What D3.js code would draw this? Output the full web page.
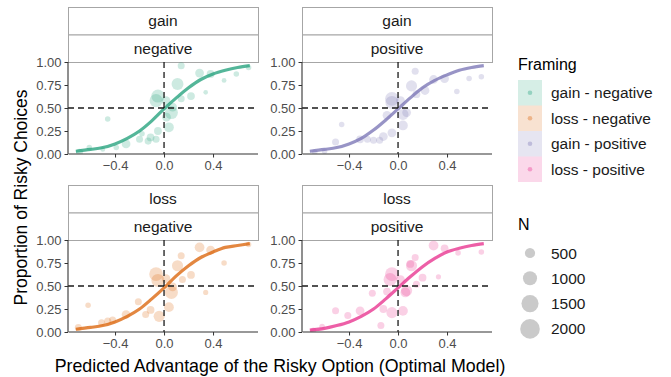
<!DOCTYPE html>
<html>
<head>
<meta charset="utf-8">
<script src="https://cdn.jsdelivr.net/npm/d3@7"></script>
<style>
  body { margin: 0; background: #fff; }
  text { font-family: "Liberation Sans", Arial, sans-serif; }
</style>
</head>
<body>
<div id="chart"></div>
<script>
// panel facets (row label / column label) and legend entries
const rowLabels = ['gain', 'loss'];
const colLabels = ['negative', 'positive'];
const framingLabels = ['gain - negative', 'loss - negative', 'gain - positive', 'loss - positive'];
const framingColors = ['#1B9E77', '#D95F02', '#7570B3', '#E7298A'];
const sizeBreaks = [500, 1000, 1500, 2000];
const xTicks = [-0.4, 0.0, 0.4];
const yTicks = [0, 0.25, 0.5, 0.75, 1];

// observed points: [predicted advantage, proportion risky, N]
const ptsGainNeg = [
  [0.14,0.96,200],[0.29,0.88,350],[0.38,0.87,260],[0.59,0.87,100],[0.69,0.94,100],
  [0.49,0.80,60],[0.34,0.67,50],[0.11,0.76,700],[0.22,0.63,260],[0.14,0.60,200],
  [-0.05,0.63,850],[-0.065,0.58,850],[0.016,0.58,350],[0.07,0.51,350],[0.06,0.45,850],
  [0.02,0.40,350],[0.04,0.29,450],[-0.05,0.25,260],[-0.11,0.18,260],[-0.13,0.14,200],
  [-0.2,0.16,200],[-0.065,0.16,200],[-0.31,0.11,350],[-0.46,0.38,100],[-0.39,0.07,100],
  [-0.5,0.05,60],[-0.61,0.07,100],[-0.69,0.02,200],[-0.18,0.22,100]
];
const ptsGainPos = [
  [0.14,0.90,200],[0.29,0.81,350],[0.38,0.82,350],[0.58,0.82,100],[0.68,0.84,100],
  [0.48,0.68,100],[0.11,0.74,600],[0.22,0.69,350],[0.15,0.65,260],[-0.05,0.60,950],
  [-0.05,0.56,850],[0.02,0.58,350],[0.07,0.45,350],[0.04,0.43,600],[-0.09,0.42,350],
  [0.04,0.31,450],[-0.05,0.23,350],[-0.12,0.19,350],[-0.15,0.15,200],[-0.2,0.15,200],
  [-0.25,0.16,200],[-0.31,0.16,260],[-0.46,0.32,100],[-0.51,0.13,200],[-0.68,0.02,100],
  [-0.6,0.03,100]
];
const ptsLossNeg = [
  [0.29,0.92,450],[0.38,0.89,350],[0.14,0.83,200],[0.69,0.95,100],[0.49,0.75,100],
  [0.11,0.72,600],[0.22,0.62,260],[0.15,0.57,200],[-0.065,0.63,950],[-0.05,0.56,850],
  [0.016,0.58,350],[0.07,0.49,350],[0.06,0.43,850],[0.34,0.43,80],[0.04,0.27,450],
  [-0.04,0.17,600],[-0.11,0.24,260],[-0.15,0.19,200],[-0.21,0.33,200],[-0.31,0.19,350],
  [-0.42,0.13,200],[-0.46,0.12,200],[-0.51,0.10,200],[-0.62,0.29,100],[-0.7,0.05,200]
];
const ptsLossPos = [
  [0.29,0.94,450],[0.38,0.91,260],[0.14,0.81,200],[0.10,0.74,260],[0.49,0.86,100],
  [0.68,0.87,100],[0.11,0.72,600],[0.2,0.59,260],[0.33,0.60,80],[0.15,0.52,200],
  [-0.05,0.63,950],[-0.065,0.57,850],[0.02,0.57,350],[0.07,0.45,600],[0.06,0.43,450],
  [-0.09,0.44,260],[-0.21,0.42,200],[0.04,0.23,450],[-0.05,0.21,600],[-0.12,0.25,260],
  [-0.31,0.23,350],[-0.41,0.18,200],[-0.51,0.23,200],[-0.14,0.07,200],[-0.62,0.06,100],
  [-0.69,0.02,100]
];

// fitted curve
const curveX = [-0.72,-0.6,-0.5,-0.4,-0.3,-0.2,-0.1,0,0.1,0.2,0.3,0.4,0.5,0.6,0.7];
const curveGainNeg = [0.03,0.05,0.07,0.11,0.17,0.25,0.36,0.49,0.61,0.72,0.81,0.87,0.91,0.94,0.96];
const curveGainPos = [0.03,0.05,0.07,0.11,0.17,0.26,0.37,0.49,0.61,0.72,0.80,0.86,0.91,0.94,0.96];
const curveLossNeg = [0.03,0.05,0.07,0.11,0.17,0.25,0.36,0.48,0.61,0.72,0.81,0.87,0.92,0.94,0.96];
const curveLossPos = [0.02,0.04,0.07,0.11,0.17,0.25,0.36,0.48,0.60,0.71,0.80,0.87,0.91,0.94,0.96];

const panels = [
  { row: 0, col: 0, pts: ptsGainNeg, curve: curveGainNeg, color: framingColors[0] },
  { row: 0, col: 1, pts: ptsGainPos, curve: curveGainPos, color: framingColors[2] },
  { row: 1, col: 0, pts: ptsLossNeg, curve: curveLossNeg, color: framingColors[1] },
  { row: 1, col: 1, pts: ptsLossPos, curve: curveLossPos, color: framingColors[3] }
];

const W = 671, H = 377;
const panelW = 190, panelH = 92, stripH = 27.5;
const panelX = [68, 302];
const stripTop = [7, 185];

const svg = d3.select('#chart').append('svg')
  .attr('width', W).attr('height', H);

const x = d3.scaleLinear().domain([-0.784, 0.767]).range([0, panelW]);
const y = d3.scaleLinear().domain([0, 1]).range([panelH, 0]);
const area = d3.scaleLinear().domain([0, 2000]).range([3, 96]);
const rOf = n => Math.sqrt(area(n));

panels.forEach(p => {
  const left = panelX[p.col];
  const top = stripTop[p.row];
  const g = svg.append('g').attr('transform', `translate(${left},${top})`);

  // two strips
  [rowLabels[p.row], colLabels[p.col]].forEach((lab, i) => {
    g.append('rect')
      .attr('x', 0.5).attr('y', i * stripH + 0.5)
      .attr('width', panelW).attr('height', stripH)
      .attr('fill', '#fff').attr('stroke', '#a6a6a6').attr('stroke-width', 1);
    g.append('text')
      .attr('x', panelW / 2).attr('y', i * stripH + stripH / 2 + 5.5)
      .attr('text-anchor', 'middle')
      .style('font-size', '15.5px').attr('fill', '#1a1a1a')
      .text(lab);
  });

  const plot = g.append('g').attr('transform', `translate(0,${2 * stripH})`);

  plot.append('defs').append('clipPath').attr('id', `clip${p.row}${p.col}`)
    .append('rect').attr('x', 0).attr('y', -1).attr('width', panelW).attr('height', panelH + 1);

  const inner = plot.append('g').attr('clip-path', `url(#clip${p.row}${p.col})`);

  inner.selectAll('circle')
    .data(p.pts)
    .enter().append('circle')
    .attr('cx', d => x(d[0]))
    .attr('cy', d => y(d[1]))
    .attr('r', d => rOf(d[2]))
    .attr('fill', p.color)
    .attr('fill-opacity', 0.22);

  const line = d3.line()
    .x((d, i) => x(curveX[i]))
    .y(d => y(d))
    .curve(d3.curveCatmullRom);

  inner.append('path')
    .datum(p.curve)
    .attr('d', line)
    .attr('fill', 'none')
    .attr('stroke', p.color)
    .attr('stroke-opacity', 0.75)
    .attr('stroke-width', 3.2);

  // reference lines
  inner.append('line')
    .attr('x1', 0).attr('x2', panelW)
    .attr('y1', y(0.5)).attr('y2', y(0.5))
    .attr('stroke', '#1a1a1a').attr('stroke-width', 1.3).attr('stroke-dasharray', '6,4');
  inner.append('line')
    .attr('x1', x(0)).attr('x2', x(0))
    .attr('y1', 0).attr('y2', panelH)
    .attr('stroke', '#1a1a1a').attr('stroke-width', 1.3).attr('stroke-dasharray', '6,4');

  // axes
  const xAxis = plot.append('g')
    .attr('transform', `translate(0,${panelH})`)
    .call(d3.axisBottom(x).tickValues(xTicks).tickFormat(d3.format('.1f')).tickSize(3.5).tickPadding(3));
  const yAxis = plot.append('g')
    .call(d3.axisLeft(y).tickValues(yTicks).tickFormat(d3.format('.2f')).tickSize(3.5).tickPadding(3));
  [xAxis, yAxis].forEach(a => {
    a.select('.domain').attr('stroke', '#333').attr('stroke-width', 1.1);
    a.selectAll('.tick line').attr('stroke', '#333').attr('stroke-width', 1);
    a.selectAll('.tick text').attr('fill', '#4d4d4d')
      .style('font-size', '13px').style('font-family', '"Liberation Sans", Arial, sans-serif');
  });
  xAxis.select('.domain').attr('d', `M0.5,0H${panelW}`);
  yAxis.select('.domain').attr('d', `M0,0V${panelH}`);
});

// axis titles
svg.append('text')
  .attr('x', (panelX[0] + panelX[1] + panelW) / 2).attr('y', 372)
  .attr('text-anchor', 'middle')
  .style('font-size', '17.8px').attr('fill', '#000')
  .text('Predicted Advantage of the Risky Option (Optimal Model)');

svg.append('text')
  .attr('transform', `translate(27,${(62 + 333) / 2}) rotate(-90)`)
  .attr('text-anchor', 'middle')
  .style('font-size', '17.5px').attr('fill', '#000')
  .text('Proportion of Risky Choices');

// Framing legend
const leg = svg.append('g').attr('transform', 'translate(518,0)');
leg.append('text').attr('x', 0).attr('y', 70)
  .style('font-size', '16px').attr('fill', '#000').text('Framing');

const keyH = 25.5, keyTop = 80;
framingLabels.forEach((lab, i) => {
  const cy = keyTop + i * keyH;
  leg.append('rect')
    .attr('x', 0).attr('y', cy).attr('width', 24).attr('height', keyH)
    .attr('fill', framingColors[i]).attr('fill-opacity', 0.18);
  leg.append('circle')
    .attr('cx', 12).attr('cy', cy + keyH / 2).attr('r', 2.3)
    .attr('fill', framingColors[i]).attr('fill-opacity', 0.35);
  leg.append('text')
    .attr('x', 33).attr('y', cy + keyH / 2 + 5.5)
    .style('font-size', '15.5px').attr('fill', '#1a1a1a').text(lab);
});

// N legend
leg.append('text').attr('x', 0).attr('y', 230)
  .style('font-size', '16px').attr('fill', '#000').text('N');
sizeBreaks.forEach((n, i) => {
  const cy = 253 + i * 25.3;
  leg.append('circle')
    .attr('cx', 12).attr('cy', cy).attr('r', rOf(n))
    .attr('fill', '#bdbdbd').attr('fill-opacity', 0.8);
  leg.append('text')
    .attr('x', 33).attr('y', cy + 5.5)
    .style('font-size', '15.5px').attr('fill', '#1a1a1a').text(n);
});
</script>
</body>
</html>
